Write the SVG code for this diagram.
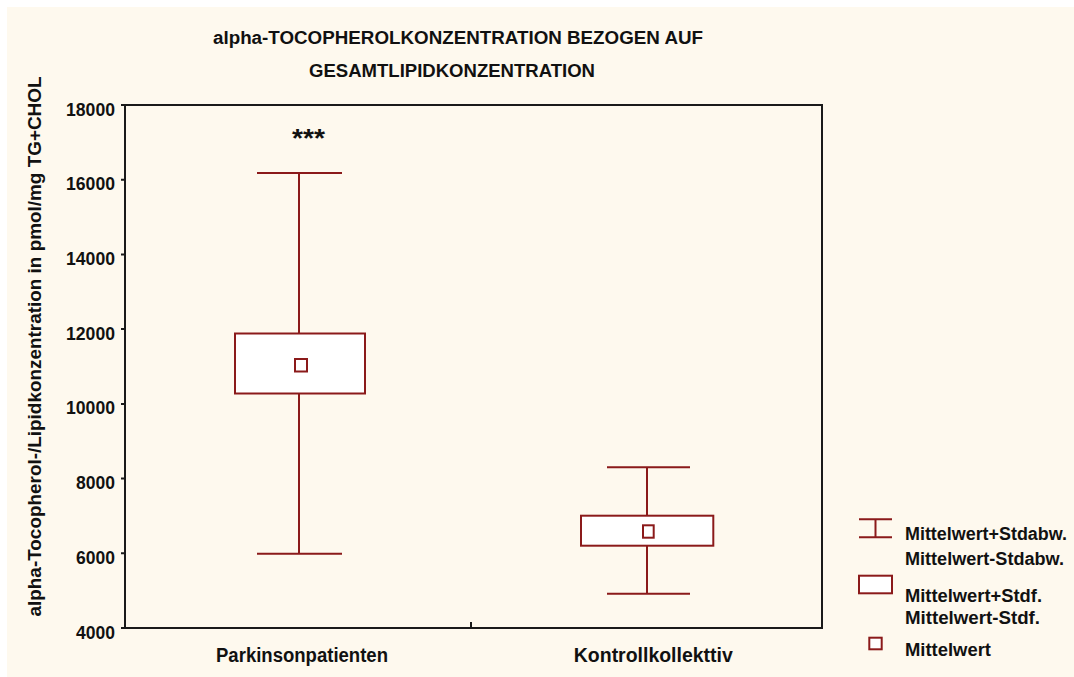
<svg xmlns="http://www.w3.org/2000/svg" width="1074" height="677" viewBox="0 0 1074 677">
  <defs>
    <style>
      .t { font-family: "Liberation Sans", Arial, sans-serif; font-weight: bold; fill: #111; }
      .title { font-size: 18px; }
      .tick { font-size: 18px; text-anchor: end; }
      .cat { font-size: 20px; text-anchor: middle; }
      .leg { font-size: 18px; }
      .red { stroke: #8b1a1a; stroke-width: 2; fill: none; }
      .redbox { stroke: #8b1a1a; stroke-width: 2; fill: #ffffff; }
      .axis { stroke: #1a1a1a; stroke-width: 2; fill: none; }
    </style>
  </defs>

  <!-- page background -->
  <rect x="0" y="0" width="1074" height="677" fill="#ffffff"/>
  <rect x="7" y="7" width="1067" height="670" fill="#fef9ee"/>

  <!-- title -->
  <g id="title">
    <text class="t title" x="458" y="43.5" text-anchor="middle" textLength="490" lengthAdjust="spacingAndGlyphs">alpha-TOCOPHEROLKONZENTRATION BEZOGEN AUF</text>
    <text class="t title" x="452" y="76.5" text-anchor="middle" textLength="286" lengthAdjust="spacingAndGlyphs">GESAMTLIPIDKONZENTRATION</text>
  </g>

  <!-- plot area -->
  <g id="plot-frame">
    <rect x="125" y="105" width="697" height="523" fill="#ffffff" class="axis"/>
    <!-- y ticks -->
    <path class="axis" d="M121 105H125 M121 179.7H125 M121 254.4H125 M121 329.1H125 M121 403.9H125 M121 478.6H125 M121 553.3H125 M121 628H125"/>
    <!-- x category separator tick -->
    <path class="axis" d="M471 628V622"/>
  </g>

  <!-- y axis labels -->
  <g id="y-axis">
    <text class="t tick" x="115" y="115.5" textLength="49" lengthAdjust="spacingAndGlyphs">18000</text>
    <text class="t tick" x="115" y="190.2" textLength="49" lengthAdjust="spacingAndGlyphs">16000</text>
    <text class="t tick" x="115" y="264.9" textLength="49" lengthAdjust="spacingAndGlyphs">14000</text>
    <text class="t tick" x="115" y="339.6" textLength="49" lengthAdjust="spacingAndGlyphs">12000</text>
    <text class="t tick" x="115" y="414.4" textLength="49" lengthAdjust="spacingAndGlyphs">10000</text>
    <text class="t tick" x="115" y="489.1" textLength="39" lengthAdjust="spacingAndGlyphs">8000</text>
    <text class="t tick" x="115" y="563.8" textLength="39" lengthAdjust="spacingAndGlyphs">6000</text>
    <text class="t tick" x="115" y="638.5" textLength="39" lengthAdjust="spacingAndGlyphs">4000</text>
    <text class="t" font-size="19" text-anchor="middle" transform="translate(40.5,346.5) rotate(-90)" textLength="540" lengthAdjust="spacingAndGlyphs">alpha-Tocopherol-/Lipidkonzentration in pmol/mg TG+CHOL</text>
  </g>

  <!-- Parkinson group -->
  <g id="parkinson">
    <path class="red" d="M257 173H342 M299 173V333.5 M299 393.5V553.7 M257 553.7H342"/>
    <rect class="redbox" x="235" y="333.5" width="130" height="60"/>
    <rect class="redbox" x="295" y="359" width="12" height="12.5"/>
    <text class="t" font-size="26" x="308.5" y="147" text-anchor="middle" textLength="33" lengthAdjust="spacingAndGlyphs">***</text>
  </g>

  <!-- control group -->
  <g id="kontroll">
    <path class="red" d="M607 467.3H690 M647 467.3V515.7 M647 545.7V593.7 M607 593.7H690"/>
    <rect class="redbox" x="581" y="515.7" width="132.3" height="30"/>
    <rect class="redbox" x="643" y="525.3" width="10.7" height="12.4"/>
  </g>

  <!-- category labels -->
  <g id="x-axis">
    <text class="t cat" x="302" y="662" textLength="172" lengthAdjust="spacingAndGlyphs">Parkinsonpatienten</text>
    <text class="t cat" x="653.3" y="662" textLength="159" lengthAdjust="spacingAndGlyphs">Kontrollkollekttiv</text>
  </g>

  <!-- legend -->
  <g id="legend">
    <path class="red" d="M859 519.3H892 M859 537.3H892 M875.5 519.3V537.3"/>
    <rect class="redbox" x="859" y="575.7" width="33" height="17.6"/>
    <rect class="redbox" x="869.3" y="637.7" width="12.4" height="11.6"/>
    <text class="t leg" x="905" y="540" textLength="162" lengthAdjust="spacingAndGlyphs">Mittelwert+Stdabw.</text>
    <text class="t leg" x="905" y="565" textLength="159" lengthAdjust="spacingAndGlyphs">Mittelwert-Stdabw.</text>
    <text class="t leg" x="905" y="601.5" textLength="137" lengthAdjust="spacingAndGlyphs">Mittelwert+Stdf.</text>
    <text class="t leg" x="905" y="623.5" textLength="135" lengthAdjust="spacingAndGlyphs">Mittelwert-Stdf.</text>
    <text class="t leg" x="905" y="655.5" textLength="86" lengthAdjust="spacingAndGlyphs">Mittelwert</text>
  </g>
</svg>
